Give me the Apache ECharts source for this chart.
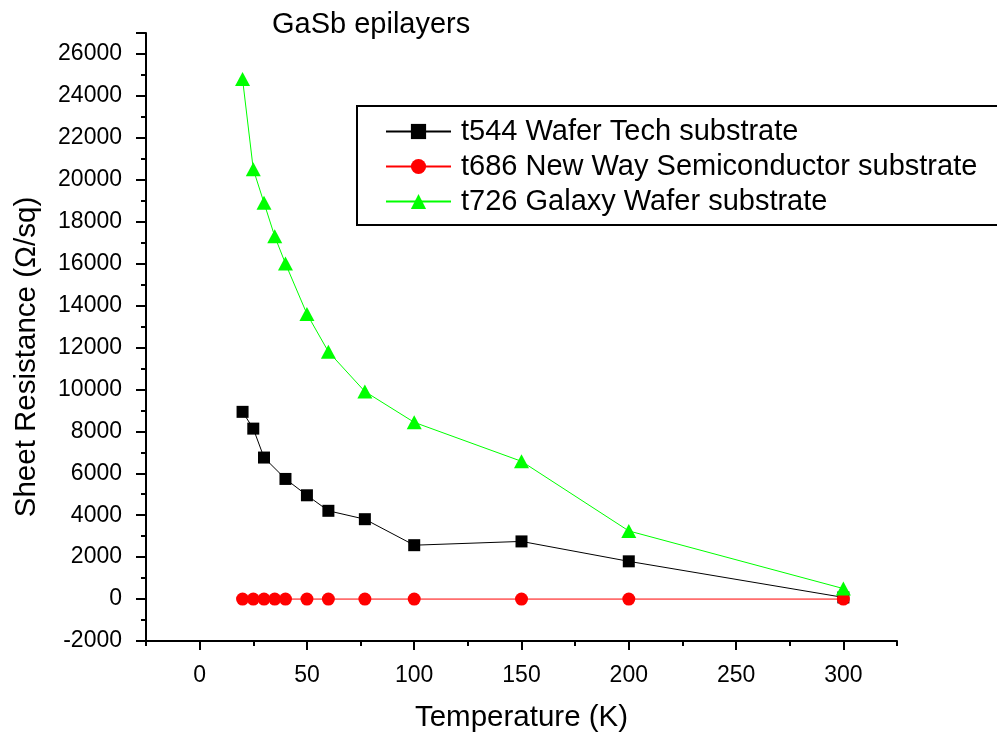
<!DOCTYPE html>
<html>
<head>
<meta charset="utf-8">
<script src="https://cdn.jsdelivr.net/npm/echarts@6/dist/echarts.min.js"></script>
<style>html,body{margin:0;padding:0;background:#fff}#c{width:997px;height:733px}</style>
</head>
<body>
<div id="c"></div>
<script>
// Data
const temperatures = [20, 25, 30, 35, 40, 50, 60, 77, 100, 150, 200, 300];
const t544 = [8930, 8130, 6750, null, 5730, 4950, 4210, 3810, 2570, 2750, 1800, 80];
const t686 = [0, 0, 0, 0, 0, 0, 0, 0, 0, 0, 0, 0];
const t726 = [24800, 20500, 18900, 17300, 16000, 13600, 11800, 9900, 8430, 6570, 3250, 500];
const seriesNames = ['t544 Wafer Tech substrate', 't686 New Way Semiconductor substrate', 't726 Galaxy Wafer substrate'];
const xTicks = [0, 50, 100, 150, 200, 250, 300];
const yTicks = [-2000, 0, 2000, 4000, 6000, 8000, 10000, 12000, 14000, 16000, 18000, 20000, 22000, 24000, 26000];

const FONT = 'Liberation Sans, Arial, sans-serif';
function pairs(ys) { return temperatures.map((t, i) => [t, ys[i]]); }
const plain = v => String(v);

const chart = echarts.init(document.getElementById('c'), null, {renderer: 'canvas'});
chart.setOption({
  backgroundColor: '#fff',
  animation: false,
  title: {
    text: 'GaSb epilayers', left: 272, top: 10, padding: 0,
    textStyle: {fontFamily: FONT, fontSize: 29, fontWeight: 'normal', color: '#000'}
  },
  legend: {
    orient: 'vertical', left: 357, top: 106,
    padding: [11, 80, 9, 28],
    itemWidth: 65, itemHeight: 19, itemGap: 6,
    borderColor: '#000', borderWidth: 2, backgroundColor: '#fff',
    textStyle: {fontFamily: FONT, fontSize: 29, color: '#000', lineHeight: 29, padding: [0, 0, 0, 5]},
    data: seriesNames
  },
  grid: {left: 146, right: 100, top: 33, bottom: 92, containLabel: false, outerBoundsMode: 'none'},
  xAxis: [{
    // ticks counted from min (-25) every 50 -> short ticks at -25, 25, ...; minor ticks land on 0, 50, ... (long)
    type: 'value', min: -25, max: 325, interval: 50,
    name: 'Temperature (K)', nameLocation: 'middle', nameGap: 62,
    nameTextStyle: {fontFamily: FONT, fontSize: 29.5, color: '#000'},
    axisLine: {show: true, onZero: false, lineStyle: {color: '#000', width: 2}},
    axisTick: {show: true, length: 5, lineStyle: {color: '#000', width: 2}},
    minorTick: {show: true, splitNumber: 2, length: 9, lineStyle: {color: '#000', width: 2}},
    axisLabel: {customValues: xTicks, margin: 23, fontFamily: FONT, fontSize: 23, color: '#000', formatter: plain},
    splitLine: {show: false},
    minorSplitLine: {show: false}
  }],
  yAxis: [{
    type: 'value', min: -2000, max: 27000, interval: 2000,
    axisLine: {show: true, onZero: false, lineStyle: {color: '#000', width: 2}},
    axisTick: {show: true, length: 10, lineStyle: {color: '#000', width: 2}},
    minorTick: {show: true, splitNumber: 2, length: 5, lineStyle: {color: '#000', width: 2}},
    axisLabel: {customValues: yTicks, margin: 24, fontFamily: FONT, fontSize: 23, color: '#000', formatter: plain},
    splitLine: {show: false},
    minorSplitLine: {show: false}
  }],
  graphic: [{
    type: 'text', x: 27, y: 357, rotation: Math.PI / 2,
    style: {text: 'Sheet Resistance (\u03A9/sq)', fontFamily: FONT, fontSize: 29.5, fill: '#000', textAlign: 'center', textVerticalAlign: 'middle'}
  }],
  series: [{
    name: seriesNames[0], type: 'line', data: pairs(t544), connectNulls: true,
    symbol: 'rect', symbolSize: 12,
    lineStyle: {color: '#000', width: 1}, itemStyle: {color: '#000'}
  }, {
    name: seriesNames[1], type: 'line', data: pairs(t686),
    symbol: 'circle', symbolSize: 13,
    lineStyle: {color: '#ff0000', width: 1}, itemStyle: {color: '#ff0000'}
  }, {
    name: seriesNames[2], type: 'line', data: pairs(t726),
    symbol: 'triangle', symbolSize: [15, 14],
    lineStyle: {color: '#00ff00', width: 1}, itemStyle: {color: '#00ff00'}
  }]
});
</script>
</body>
</html>
